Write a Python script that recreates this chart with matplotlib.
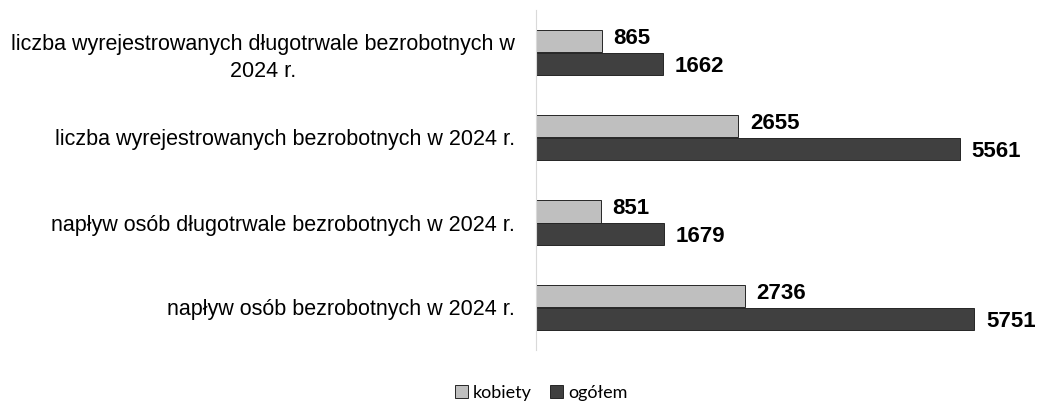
import matplotlib
matplotlib.use("Agg")
import matplotlib.pyplot as plt
import numpy as np
from matplotlib.patches import Patch

categories = [
    "liczba wyrejestrowanych długotrwale bezrobotnych w\n2024 r.",
    "liczba wyrejestrowanych bezrobotnych w 2024 r.",
    "napływ osób długotrwale bezrobotnych w 2024 r.",
    "napływ osób bezrobotnych w 2024 r.",
]
kobiety = [865, 2655, 851, 2736]
ogolem = [1662, 5561, 1679, 5751]

LIGHT = "#bfbfbf"
DARK = "#404040"
EDGE = "#262626"

plt.rcParams["font.family"] = ["Liberation Sans", "DejaVu Sans"]

fig = plt.figure(figsize=(10.38, 4.03), dpi=100)
ax = fig.add_axes([536 / 1038, 1 - 350 / 403, 0.98 - 536 / 1038, 340 / 403])

y = np.arange(len(categories))
h = 0.26
ax.barh(y - h / 2, kobiety, height=h, color=LIGHT, edgecolor=EDGE, lw=0.7)
ax.barh(y + h / 2, ogolem, height=h, color=DARK, edgecolor=EDGE, lw=0.7)

for yi, v in zip(y, kobiety):
    ax.text(v + 150, yi - h / 2 - 0.03, str(v), va="center", ha="left",
            fontsize=16, fontweight="bold", color="black")
for yi, v in zip(y, ogolem):
    ax.text(v + 150, yi + h / 2 + 0.04, str(v), va="center", ha="left",
            fontsize=16, fontweight="bold", color="black")

ax.set_xlim(0, 481 / 0.0762)
ax.set_ylim(len(categories) - 0.5, -0.5)
ax.set_yticks(y)
ax.set_yticklabels(categories, fontsize=15.5, color="#000000",
                   multialignment="center", linespacing=1.4)
ax.tick_params(axis="y", length=0, pad=15)
ax.set_xticks([])
for s in ("top", "right", "bottom"):
    ax.spines[s].set_visible(False)
ax.spines["left"].set_color("#d9d9d9")

handles = [Patch(facecolor=LIGHT, edgecolor=EDGE, lw=0.7, label="kobiety"),
           Patch(facecolor=DARK, edgecolor=EDGE, lw=0.7, label="ogółem")]
fig.legend(handles=handles, loc="center", bbox_to_anchor=(541 / 1038, 1 - 393 / 403),
           ncol=2, frameon=False, prop={"family": "Lato", "size": 13},
           handlelength=0.75, handleheight=0.75, handletextpad=0.25,
           columnspacing=1.0)

fig.savefig("out.png", dpi=100)
